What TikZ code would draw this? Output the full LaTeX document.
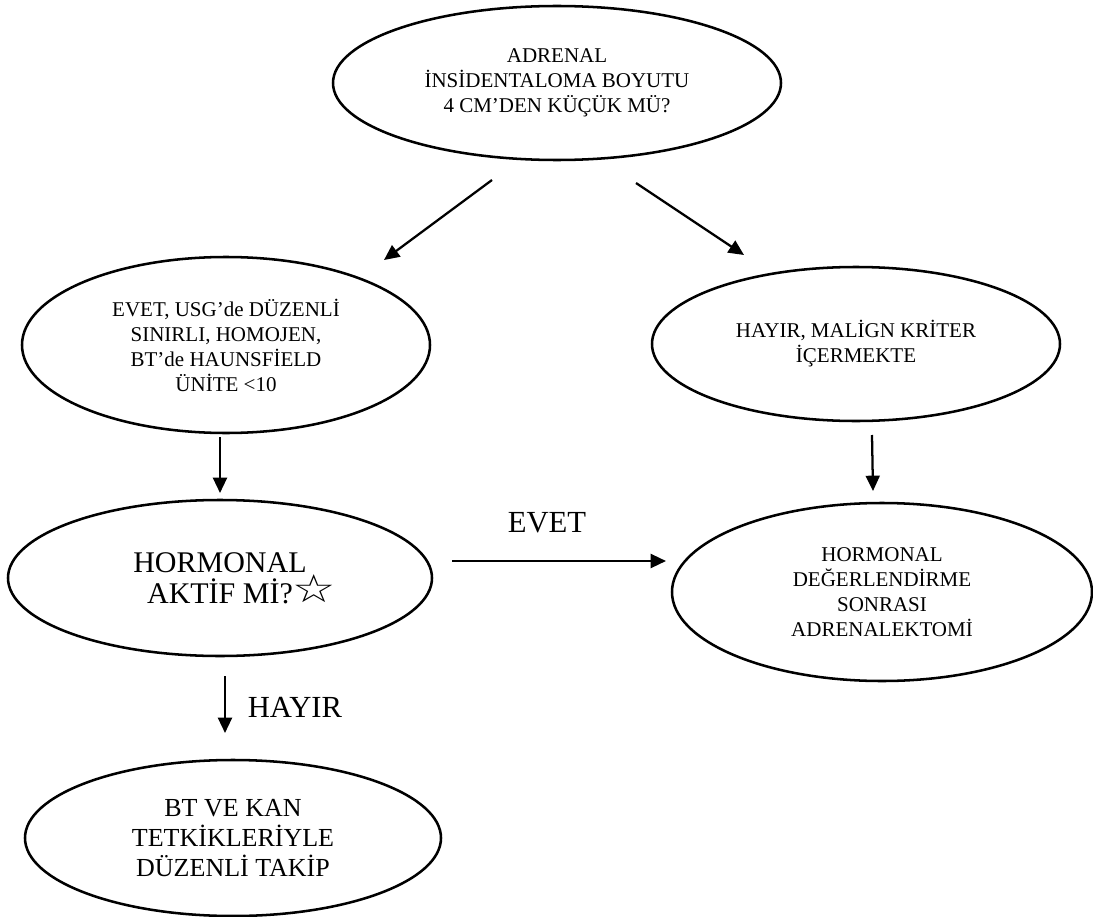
\documentclass[tikz,border=0pt]{standalone}
\usepackage{fontspec}
\setmainfont{Liberation Serif}
\newfontfamily\symfont{DejaVu Sans}
\usetikzlibrary{shapes.geometric,arrows.meta}
\begin{document}
\begin{tikzpicture}[x=0.75pt,y=-0.75pt,
  oval/.style={ellipse,draw,line width=1.9pt,inner sep=0pt,align=center},
  small/.style={font=\fontsize{15.75}{18.75}\selectfont},
  mid/.style={font=\fontsize{19.5}{22.5}\selectfont},
  big/.style={font=\fontsize{22.5}{23}\selectfont},
  arr/.style={line width=1.7pt,-{Triangle[length=11.5pt,width=10.5pt]}},
  lbl/.style={font=\fontsize{23}{26}\selectfont,inner sep=0pt}]
\useasboundingbox (0,0) rectangle (1093,917);

\node[oval,small,minimum width=336pt,minimum height=115.5pt] (top) at (557,83)
  {ADRENAL\\İNSİDENTALOMA BOYUTU\\4 CM’DEN KÜÇÜK MÜ?};
\node[oval,small,minimum width=306pt,minimum height=132pt] (left) at (226,345)
  {EVET, USG’de DÜZENLİ\\SINIRLI, HOMOJEN,\\BT’de HAUNSFİELD\\ÜNİTE <10};
\node[oval,small,minimum width=306pt,minimum height=115.5pt] (right) at (856,344)
  {HAYIR, MALİGN KRİTER\\İÇERMEKTE};
\node[oval,big,minimum width=318pt,minimum height=117pt] (horm) at (220,578)
  {HORMONAL\\AKTİF Mİ?\rlap{\symfont\fontsize{29}{29}\selectfont\raisebox{0.5pt}{\scalebox{1.25}[1]{☆}}}};
\node[oval,small,minimum width=315pt,minimum height=133.5pt] (adx) at (882,592)
  {HORMONAL\\DEĞERLENDİRME\\SONRASI\\ADRENALEKTOMİ};
\node[oval,mid,minimum width=312pt,minimum height=117pt] (follow) at (233,838)
  {BT VE KAN\\TETKİKLERİYLE\\DÜZENLİ TAKİP};

\coordinate (a1s) at (492,180); \coordinate (a1e) at (384,260);
\coordinate (a2s) at (636,183); \coordinate (a2e) at (744,255);
\coordinate (a3s) at (220,437); \coordinate (a3e) at (220,493);
\coordinate (a4s) at (872,435); \coordinate (a4e) at (873,491);
\coordinate (a5s) at (452,561); \coordinate (a5e) at (666,561);
\coordinate (a6s) at (225,676); \coordinate (a6e) at (225,733);

\draw[arr] (a1s) -- (a1e);
\draw[arr] (a2s) -- (a2e);
\draw[arr] (a3s) -- (a3e);
\draw[arr] (a4s) -- (a4e);
\draw[arr] (a5s) -- (a5e);
\draw[arr] (a6s) -- (a6e);

\node[lbl] (evet) at (547,523) {EVET};
\node[lbl] (hayir) at (295,707) {HAYIR};
\end{tikzpicture}
\end{document}
